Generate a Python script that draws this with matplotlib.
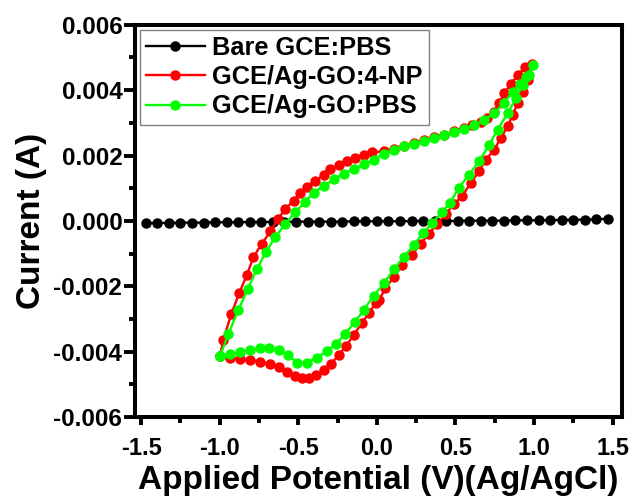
import matplotlib
matplotlib.use("Agg")
import matplotlib.pyplot as plt
from matplotlib.ticker import MultipleLocator
import numpy as np

plt.rcParams['font.family'] = ['Liberation Sans', 'DejaVu Sans']
plt.rcParams['font.weight'] = 'bold'

# Bare GCE in PBS: flat baseline
bare_x = np.linspace(-1.47, 1.47, 41)
bare_y = [-7, -6, -6, -5, -5, -5, -4, -4, -4, -3, -3, -3, -3, -2, -2, -2, -2, -2, -1, -1, -1,
          -1, -1, 0, 0, 0, 0, 0, 1, 1, 1, 1, 2, 2, 2, 3, 3, 4, 4, 5, 7]
bare_y = np.array(bare_y) * 1e-5

# GCE/Ag-GO in 4-NP (lower branch then upper branch back)
np_x = [-0.998, -0.934, -0.870, -0.806, -0.742, -0.678, -0.625, -0.572, -0.519, -0.477,
        -0.434, -0.387, -0.338, -0.289, -0.243, -0.196, -0.147, -0.094, -0.051, -0.008,
        0.013, 0.055, 0.108, 0.162, 0.225, 0.279, 0.332, 0.385, 0.438, 0.491,
        0.545, 0.598, 0.651, 0.694, 0.747, 0.789, 0.832, 0.864, 0.896, 0.927, 0.959, 0.987,
        0.942, 0.896, 0.853, 0.810, 0.779, 0.747, 0.704, 0.662, 0.608, 0.555, 0.491, 0.428,
        0.364, 0.300, 0.236, 0.172, 0.108, 0.045, -0.030, -0.083, -0.136, -0.190, -0.243,
        -0.296, -0.338, -0.391, -0.445, -0.487, -0.530, -0.583, -0.630, -0.678, -0.732,
        -0.785, -0.828, -0.876, -0.927, -0.976, -0.998]
np_y = [-4.13, -4.18, -4.23, -4.26, -4.30, -4.38, -4.48, -4.61, -4.74, -4.81,
        -4.81, -4.71, -4.57, -4.36, -4.10, -3.83, -3.48, -3.12, -2.82, -2.52,
        -2.42, -2.06, -1.71, -1.35, -1.03, -0.70, -0.39, -0.09, 0.21, 0.52,
        0.77, 1.17, 1.52, 1.88, 2.18, 2.54, 2.89, 3.24, 3.60, 3.95, 4.30, 4.80,
        4.70, 4.45, 4.20, 3.90, 3.60, 3.34, 3.16, 3.04, 2.94, 2.84, 2.74, 2.64,
        2.57, 2.48, 2.38, 2.30, 2.21, 2.13, 2.10, 2.03, 1.93, 1.83, 1.70,
        1.58, 1.42, 1.22, 1.05, 0.87, 0.62, 0.36, 0.06, -0.32, -0.70,
        -1.10, -1.66, -2.21, -2.85, -3.63, -4.13]
np_y = np.array(np_y) * 1e-3

# GCE/Ag-GO in PBS
pbs_x = [-0.998, -0.934, -0.870, -0.806, -0.742, -0.685, -0.625, -0.566, -0.508, -0.445,
         -0.381, -0.317, -0.260, -0.200, -0.140, -0.083, -0.019, 0.045, 0.108, 0.172,
         0.236, 0.294, 0.353, 0.413, 0.465, 0.523, 0.587, 0.651, 0.715, 0.768, 0.832,
         0.885, 0.927, 0.970, 0.996,
         0.949, 0.910, 0.864, 0.810, 0.747, 0.683, 0.619, 0.555, 0.491, 0.428, 0.364,
         0.300, 0.236, 0.172, 0.108, 0.045, -0.019, -0.083, -0.147, -0.211, -0.274,
         -0.338, -0.402, -0.455, -0.519, -0.583, -0.646, -0.706, -0.764, -0.821, -0.881,
         -0.944, -0.998]
pbs_y = [-4.13, -4.08, -4.01, -3.95, -3.90, -3.90, -3.95, -4.11, -4.33, -4.33,
         -4.18, -3.98, -3.76, -3.45, -3.09, -2.72, -2.28, -1.91, -1.48, -1.10,
         -0.73, -0.37, -0.06, 0.26, 0.55, 1.02, 1.42, 1.83, 2.33, 2.79, 3.29,
         3.75, 4.15, 4.45, 4.76,
         4.40, 4.20, 3.95, 3.62, 3.29, 3.09, 2.94, 2.81, 2.71, 2.62, 2.54,
         2.45, 2.36, 2.28, 2.18, 2.06, 1.88, 1.73, 1.58, 1.45, 1.27,
         1.07, 0.87, 0.59, 0.26, -0.09, -0.49, -0.95, -1.48, -2.08, -2.72,
         -3.45, -4.13]
pbs_y = np.array(pbs_y) * 1e-3

fig = plt.figure(figsize=(6.36, 4.96), dpi=100)
ax = fig.add_axes([0.212, 0.159, 0.766, 0.791])

ax.plot(bare_x, bare_y, color='black', marker='o', markersize=6.5, linewidth=1.7,
        label='Bare GCE:PBS')
ax.plot(np_x, np_y, color='#FF0000', marker='o', markersize=6.5, linewidth=1.7,
        label='GCE/Ag-GO:4-NP')
ax.plot(pbs_x, pbs_y, color='#00FF00', marker='o', markersize=6.5, linewidth=1.7,
        label='GCE/Ag-GO:PBS')

ax.set_xlim(-1.54, 1.56)
ax.set_ylim(-0.006, 0.006)
ax.xaxis.set_major_locator(MultipleLocator(0.5))
ax.xaxis.set_minor_locator(MultipleLocator(0.25))
ax.yaxis.set_major_locator(MultipleLocator(0.002))
ax.yaxis.set_minor_locator(MultipleLocator(0.001))
ax.xaxis.set_major_formatter(plt.FuncFormatter(lambda v, p: f'{v:.1f}'))
ax.yaxis.set_major_formatter(plt.FuncFormatter(lambda v, p: f'{v:.3f}'))

for s in ax.spines.values():
    s.set_linewidth(2.9)
ax.tick_params(axis='x', which='major', direction='out', length=6, width=2.8,
               labelsize=17, pad=8)
ax.tick_params(axis='y', which='major', direction='out', length=8, width=2.8,
               labelsize=17.5, pad=1)
ax.tick_params(which='minor', direction='out', length=4, width=2.8)

ax.set_xlabel('Applied Potential (V)(Ag/AgCl)', fontsize=24, fontweight='bold', labelpad=4)
ax.set_ylabel('Current (A)', fontsize=24, fontweight='bold', labelpad=5)

leg = ax.legend(loc='upper left', fontsize=18.3, handlelength=2.3, handletextpad=0.3,
                labelspacing=0.2, borderpad=0.25, borderaxespad=0.2, fancybox=False,
                framealpha=1)
leg.get_frame().set_edgecolor('#808080')
leg.get_frame().set_linewidth(1)

plt.savefig('out.png', dpi=100)
plt.close()
